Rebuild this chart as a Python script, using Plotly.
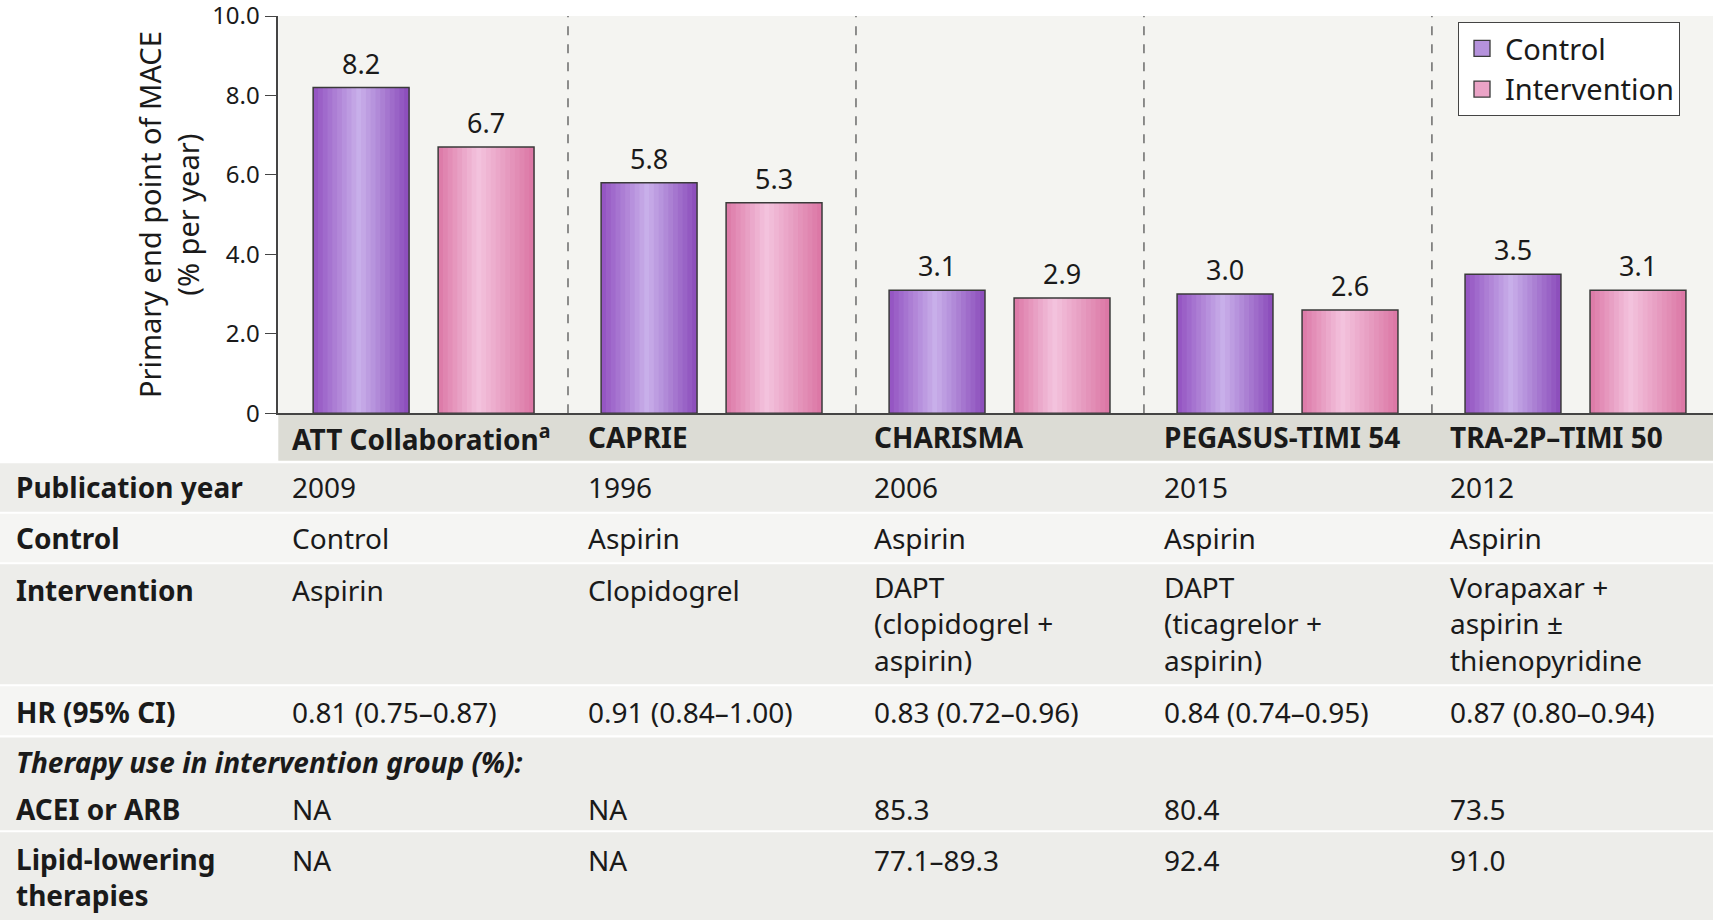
import plotly.graph_objects as go

# ---- data ----
trials = ["ATT Collaboration<sup>a</sup>", "CAPRIE", "CHARISMA", "PEGASUS-TIMI 54", "TRA-2P–TIMI 50"]
control_rate = [8.2, 5.8, 3.1, 3.0, 3.5]
intervention_rate = [6.7, 5.3, 2.9, 2.6, 3.1]

pub_year = ["2009", "1996", "2006", "2015", "2012"]
control_arm = ["Control", "Aspirin", "Aspirin", "Aspirin", "Aspirin"]
intervention_arm = ["Aspirin", "Clopidogrel",
                    "DAPT<br>(clopidogrel +<br>aspirin)",
                    "DAPT<br>(ticagrelor +<br>aspirin)",
                    "Vorapaxar +<br>aspirin ±<br>thienopyridine"]
hr_ci = ["0.81 (0.75–0.87)", "0.91 (0.84–1.00)", "0.83 (0.72–0.96)",
         "0.84 (0.74–0.95)", "0.87 (0.80–0.94)"]
acei_arb = ["NA", "NA", "85.3", "80.4", "73.5"]
lipid_lowering = ["NA", "NA", "77.1–89.3", "92.4", "91.0"]

y_tickvals = [0, 2, 4, 6, 8, 10]
y_ticktext = ["0", "2.0", "4.0", "6.0", "8.0", "10.0"]

# ---- layout constants (pixels of the 1713x920 page) ----
W, H = 1713, 920
FONT = "Noto Sans"
TXT = "#1a1a1a"
GRAY = "#ededea"
LIGHT = "#f5f5f3"
BAR_W = 0.333
CTRL_OFF = -0.385
INT_OFF = 0.049
N_SLICES = 20
COL_X = [-0.467, 0.562, 1.557, 2.562, 3.555]   # left edge of each text column (x units)
LINE = 33


def py(y):
    # pixel row -> paper y
    return 1 - y / H


def hexrgb(h):
    h = h.lstrip("#")
    return [int(h[i:i + 2], 16) for i in (0, 2, 4)]


def grad(stops, t):
    for (t0, c0), (t1, c1) in zip(stops, stops[1:]):
        if t0 <= t <= t1:
            f = (t - t0) / (t1 - t0)
            a, b = hexrgb(c0), hexrgb(c1)
            return "rgb(%d,%d,%d)" % tuple(round(a[i] + (b[i] - a[i]) * f) for i in range(3))
    return stops[-1][1]


ctrl_stops = [(0, "#9251c1"), (0.48, "#c9b0ea"), (1, "#8a4aba")]
int_stops = [(0, "#dc78a6"), (0.42, "#f3c3de"), (1, "#db75a3")]

idx = list(range(len(trials)))
fig = go.Figure()

# bars drawn as thin vertical slices to get the shaded look
for vals, off, stops in [(control_rate, CTRL_OFF, ctrl_stops), (intervention_rate, INT_OFF, int_stops)]:
    sw = BAR_W / N_SLICES
    for k in range(N_SLICES):
        fig.add_trace(go.Bar(x=idx, y=vals, offset=off + k * sw, width=BAR_W - k * sw,
                             marker=dict(color=grad(stops, (k + 0.5) / N_SLICES), line=dict(width=0)),
                             showlegend=False, hoverinfo="skip"))
    fig.add_trace(go.Bar(x=idx, y=vals, offset=off, width=BAR_W,
                         marker=dict(color="rgba(0,0,0,0)", line=dict(color="#3a3a3a", width=1.5)),
                         showlegend=False, hoverinfo="skip"))

# legend entries
fig.add_trace(go.Scatter(x=[None], y=[None], name="Control", mode="markers",
                         marker=dict(symbol="square", size=22, color="#b592dc",
                                     line=dict(color="#3a3a3a", width=1.3))))
fig.add_trace(go.Scatter(x=[None], y=[None], name="Intervention", mode="markers",
                         marker=dict(symbol="square", size=22, color="#eaa3c6",
                                     line=dict(color="#3a3a3a", width=1.3))))

ann = []
# value labels
for vals, off in [(control_rate, CTRL_OFF), (intervention_rate, INT_OFF)]:
    for i, v in enumerate(vals):
        ann.append(dict(x=i + off + BAR_W / 2, y=v, xref="x", yref="y", text=f"{v:.1f}",
                        yanchor="bottom", yshift=4, showarrow=False,
                        font=dict(family=FONT, size=27, color=TXT)))

shapes = []
# dashed separators between trials
for i in range(len(trials) - 1):
    shapes.append(dict(type="line", xref="x", yref="y", x0=i + 0.5, x1=i + 0.5, y0=0, y1=10,
                       line=dict(color="#555555", width=1.3, dash="dash"), layer="above"))

# header band with trial names
x_ax0 = 278.3 / W
shapes.append(dict(type="rect", xref="paper", yref="paper", x0=x_ax0, x1=1,
                   y0=py(460.7), y1=py(413.3), fillcolor="#dcdcd5", line=dict(width=0), layer="below"))
for i, name in enumerate(trials):
    ann.append(dict(x=COL_X[i], y=py(437), xref="x", yref="paper", text="<b>" + name + "</b>",
                    xanchor="left", yanchor="middle", showarrow=False,
                    font=dict(family=FONT, size=28, color=TXT)))

# table rows: label, values, top, bottom, fill, first line centre
rows = [
    ("Publication year", pub_year, 463.3, 511.7, GRAY, 487.5),
    ("Control", control_arm, 513.7, 562.3, LIGHT, 538),
    ("Intervention", intervention_arm, 564.3, 684.3, GRAY, 590),
    ("HR (95% CI)", hr_ci, 686.3, 735.3, LIGHT, 712),
    ("ACEI or ARB", acei_arb, 737.5, 830.2, GRAY, 808.5),
    ("Lipid-lowering<br>therapies", lipid_lowering, 832.3, 920, GRAY, 860),
]


def cell(text, x, xref, yc, bold=False):
    n = text.count("<br>") + 1
    shown = text
    if bold:
        shown = "<br>".join("<b>" + p + "</b>" for p in text.split("<br>"))
    return dict(x=x, y=py(yc + (n - 1) * LINE / 2), xref=xref, yref="paper", text=shown,
                xanchor="left", yanchor="middle", align="left", showarrow=False,
                font=dict(family=FONT, size=28, color=TXT))


for label, vals, top, bot, fill, yc in rows:
    shapes.append(dict(type="rect", xref="paper", yref="paper", x0=0, x1=1,
                       y0=py(bot), y1=py(top), fillcolor=fill, line=dict(width=0), layer="below"))
    ann.append(cell(label, 14 / W, "paper", yc, bold=True))
    for i, v in enumerate(vals):
        ann.append(cell(v, COL_X[i], "x", yc))

ann.append(dict(x=14 / W, y=py(761.5), xref="paper", yref="paper",
                text="<b><i>Therapy use in intervention group (%):</i></b>",
                xanchor="left", yanchor="middle", showarrow=False,
                font=dict(family=FONT, size=28, color=TXT)))

fig.update_layout(
    autosize=True,
    margin=dict(l=0, r=0, t=0, b=0, autoexpand=False),
    paper_bgcolor="white",
    plot_bgcolor="#f4f4f1",
    barmode="overlay",
    font=dict(family=FONT, color=TXT),
    showlegend=True,
    legend=dict(x=1458 / W, y=py(22), xanchor="left", yanchor="top",
                bgcolor="white", bordercolor="#444444", borderwidth=1, itemwidth=36,
                font=dict(family=FONT, size=29, color=TXT), tracegroupgap=0),
    xaxis=dict(domain=[x_ax0, 1], range=[-0.506, 4.476], showticklabels=False, ticks="",
               automargin=False, showgrid=False, zeroline=False, showline=True,
               linecolor="#444444", linewidth=1.5),
    yaxis=dict(domain=[py(413.3), py(16)], range=[0, 10], tickvals=y_tickvals, ticktext=y_ticktext,
               ticks="outside", ticklen=12, tickwidth=1.2, tickcolor="#444444", ticklabeloverflow="allow",
               automargin=False, showline=True, linecolor="#444444", linewidth=1.5,
               showgrid=False, zeroline=False,
               tickfont=dict(family=FONT, size=24, color=TXT),
               title=dict(text="Primary end point of MACE<br>(% per year)", standoff=4,
                          font=dict(family=FONT, size=29, color=TXT))),
    annotations=ann,
    shapes=shapes,
)

fig.write_html("out.html", config={"displayModeBar": False},
               default_width="100vw", default_height="100vh",
               post_script="document.body.style.margin='0';document.body.style.overflow='hidden';")
